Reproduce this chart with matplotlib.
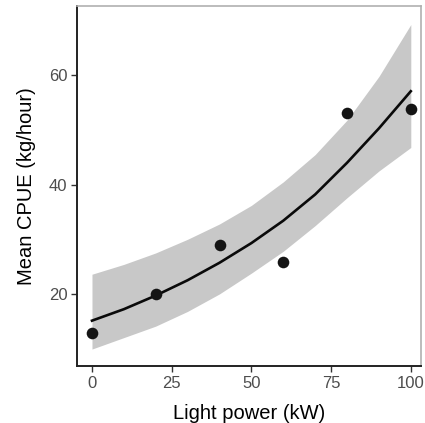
import matplotlib
matplotlib.use("Agg")
import matplotlib.pyplot as plt

plt.rcParams['font.family'] = ['Liberation Sans', 'DejaVu Sans']

# Observed points
obs_power = [0, 20, 40, 60, 80, 100]
obs_cpue = [12.9, 20.0, 29.0, 25.9, 53.2, 53.8]

# Fitted curve and confidence band
fit_power = [0, 10, 20, 30, 40, 50, 60, 70, 80, 90, 100]
fit_cpue = [15.1, 17.2, 19.7, 22.5, 25.7, 29.3, 33.4, 38.2, 44.0, 50.3, 57.1]
fit_lower = [9.9, 12.0, 14.1, 16.8, 20.0, 23.8, 27.8, 32.5, 37.6, 42.5, 46.8]
fit_upper = [23.6, 25.4, 27.5, 30.0, 32.8, 36.2, 40.5, 45.5, 51.8, 59.8, 69.3]

x_ticks = [0, 25, 50, 75, 100]
y_ticks = [20, 40, 60]

fig = plt.figure(figsize=(4.25, 4.23), dpi=100)
ax = fig.add_axes([77/425, 57/423, 344/425, 360/423])

ax.fill_between(fit_power, fit_lower, fit_upper, color='#C8C8C8', linewidth=0, zorder=1)
ax.plot(fit_power, fit_cpue, color='#0A0A0A', linewidth=1.9, zorder=2)
ax.scatter(obs_power, obs_cpue, s=70, color='#141414', zorder=3, linewidths=0)

ax.set_xlim(-4.7, 103.2)
ax.set_ylim(6.8, 72.7)
ax.set_xticks(x_ticks)
ax.set_yticks(y_ticks)

for side in ['left', 'bottom']:
    ax.spines[side].set_color('#222222')
    ax.spines[side].set_linewidth(1.4)
for side in ['top', 'right']:
    ax.spines[side].set_color('#B0B0B0')
    ax.spines[side].set_linewidth(1.2)

ax.tick_params(axis='both', which='major', length=4.5, width=1.0, color='#333333',
               labelsize=12, labelcolor='#4D4D4D', pad=2.5)
ax.tick_params(top=False, right=False)

ax.set_xlabel('Light power (kW)', fontsize=14.5, color='black')
ax.set_ylabel('Mean CPUE (kg/hour)', fontsize=14.5, color='black')
ax.xaxis.set_label_coords(0.5, -0.105)
ax.yaxis.set_label_coords(-0.118, 0.5)

fig.savefig('out.png', dpi=100)
